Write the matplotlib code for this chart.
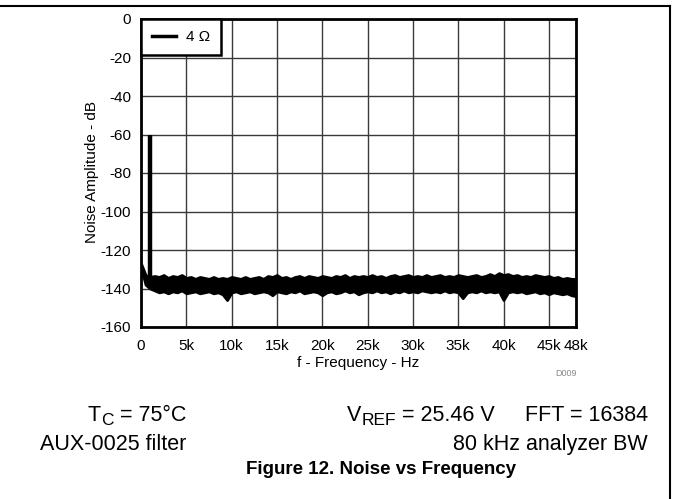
import numpy as np
import matplotlib as mpl
mpl.use('Agg')
import matplotlib.pyplot as plt
from matplotlib.lines import Line2D

plt.rcParams['font.family'] = ['Liberation Sans', 'DejaVu Sans']

W, H = 673, 499

# noise floor, upper / lower edge of the trace (dB), every 0.5 kHz
freq_khz = np.arange(0, 48.5, 0.5)
noise_hi = [-127, -133, -134, -133.5, -134, -133, -134.5, -133.5, -134, -133,
            -134.5, -134, -135, -134, -134.5, -135, -134, -135, -134.5, -135,
            -134, -134.5, -135, -134, -135, -134.5, -134, -135, -133.5, -134,
            -133, -134.5, -134, -135, -134, -133.5, -134.5, -133.5, -134, -134.5,
            -133.5, -134, -134.5, -133.5, -134, -133, -134.5, -133.5, -134, -133.5,
            -134, -133, -134, -133.5, -134.5, -133.5, -133, -134, -133.5, -133,
            -134, -133.5, -134, -133, -134, -133.5, -133, -134, -133.5, -134,
            -133, -133.5, -134, -133.5, -133, -134, -133.5, -132.5, -133.5, -132,
            -133, -132.5, -133.5, -133, -134, -133.5, -134, -133, -133.5, -134,
            -133.5, -134.5, -134, -135, -134.5, -135, -135]
noise_lo = [-129, -138, -140, -141, -142, -141.5, -142.5, -141.5, -142, -141,
            -142.5, -142, -141.5, -142.5, -142, -141.5, -142.5, -142, -143, -146,
            -142, -141.5, -142.5, -142, -141.5, -142.5, -142, -141.5, -142, -143.5,
            -141.5, -142, -142.5, -141.5, -142, -141, -142.5, -142, -141.5, -142,
            -143.5, -142, -141.5, -142.5, -142, -141, -142, -141.5, -143, -142,
            -141.5, -142, -141, -142, -141.5, -142.5, -141.5, -142, -141, -142,
            -141.5, -142, -141, -141.5, -142, -141.5, -142, -141, -142, -141.5,
            -142, -145, -142, -141.5, -142, -141, -142, -141.5, -142, -141.5,
            -146, -142, -141.5, -142, -141.5, -142.5, -142, -141.5, -142.5, -142,
            -143, -142, -142.5, -143, -142.5, -143.5, -144]

# 1 kHz test tone
tone_khz = 1.0
tone_db = -60
tone_base_db = -136

xticks = [0, 5, 10, 15, 20, 25, 30, 35, 40, 45, 48]
xticklabels = ['0', '5k', '10k', '15k', '20k', '25k', '30k', '35k', '40k', '45k', '48k']
yticks = [0, -20, -40, -60, -80, -100, -120, -140, -160]

fig = plt.figure(figsize=(W / 100, H / 100), dpi=100)
ax = fig.add_axes([141 / W, 1 - 327 / H, 435 / W, 308 / H])

ax.fill_between(freq_khz, noise_lo, noise_hi, color='black', lw=2.0, zorder=3)
ax.vlines(tone_khz, tone_base_db, tone_db, color='black', lw=3.2, zorder=3)
ax.plot([], [], color='black', lw=2.5, label='4 \u03a9')

ax.set_xlim(0, 48)
ax.set_ylim(-160, 0)
ax.set_xticks(xticks)
ax.set_xticklabels(xticklabels, fontsize=11)
ax.set_yticks(yticks)
ax.set_yticklabels([str(v) for v in yticks], fontsize=11)
ax.tick_params(axis='x', length=0, pad=9)
ax.tick_params(axis='y', length=0, pad=7)
ax.grid(True, color='#3a3a3a', lw=1)
ax.set_axisbelow(True)
for s in ax.spines.values():
    s.set_linewidth(2)

leg = ax.legend(loc='upper left', fontsize=11, fancybox=False, framealpha=1,
                edgecolor='black', borderaxespad=0, handlelength=1.6,
                handletextpad=0.6, borderpad=0.72)
leg.get_frame().set_linewidth(1.8)

fig.text(92 / W, 1 - 172 / H, 'Noise Amplitude - dB', rotation=90,
         ha='center', va='center', fontsize=11)
fig.text(358 / W, 1 - 363 / H, 'f - Frequency - Hz', ha='center', va='center', fontsize=11)
fig.text(566 / W, 1 - 374 / H, 'D009', ha='center', va='center', fontsize=6.5, color='#888888')

renderer = fig.canvas.get_renderer()
BIG, SUB = 15.5, 12.5


def sub_label(x, y, main, sub, rest, align='left'):
    # main letter, lowered subscript, then the rest; x, y in pixels (baseline)
    parts = [(main, BIG, 0), (sub, SUB, 4), (rest, BIG, 0)]
    texts = [fig.text(0, 0, s, fontsize=fs, va='baseline') for s, fs, _ in parts]
    widths = [t.get_window_extent(renderer).width for t in texts]
    x0 = x - sum(widths) if align == 'right' else x
    for t, w, (_, _, dy) in zip(texts, widths, parts):
        t.set_position((x0 / W, 1 - (y + dy) / H))
        x0 += w


sub_label(186, 421, 'T', 'C', ' = 75°C', align='right')
sub_label(347, 421, 'V', 'REF', ' = 25.46 V')
fig.text(648 / W, 1 - 421 / H, 'FFT = 16384', ha='right', va='baseline', fontsize=BIG)
fig.text(186 / W, 1 - 450 / H, 'AUX-0025 filter', ha='right', va='baseline', fontsize=BIG)
fig.text(648 / W, 1 - 450 / H, '80 kHz analyzer BW', ha='right', va='baseline', fontsize=BIG)
fig.text(381 / W, 1 - 469 / H, 'Figure 12. Noise vs Frequency', ha='center', va='center',
         fontsize=13.5, fontweight='bold')

# page frame: top rule and right edge
fig.add_artist(Line2D([0, 670 / W], [1 - 6 / H, 1 - 6 / H], color='black', lw=1.5))
fig.add_artist(Line2D([670 / W, 670 / W], [1 - 6 / H, 0], color='black', lw=1.5))

fig.savefig('out.png', dpi=100)
